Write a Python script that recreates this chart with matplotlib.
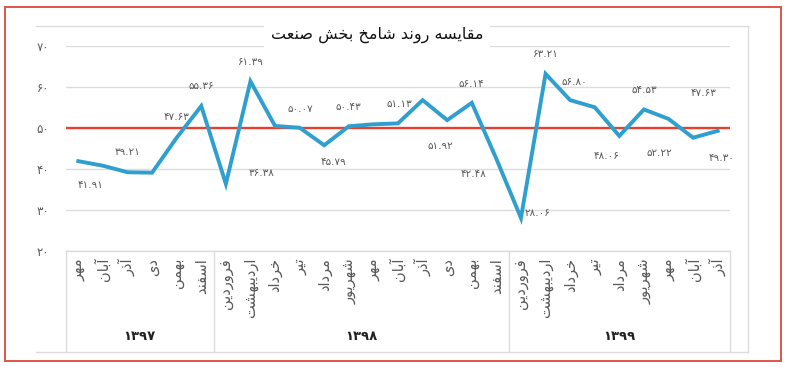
import matplotlib
matplotlib.use("Agg")
import matplotlib.pyplot as plt
from matplotlib.lines import Line2D
from matplotlib.patches import Rectangle

# data
years = ['۱۳۹۷', '۱۳۹۸', '۱۳۹۹']
year_sizes = [6, 12, 9]
months = [
    'مهر', 'آبان', 'آذر', 'دی', 'بهمن', 'اسفند',
    'فروردین', 'اردیبهشت', 'خرداد', 'تیر', 'مرداد', 'شهریور',
    'مهر', 'آبان', 'آذر', 'دی', 'بهمن', 'اسفند',
    'فروردین', 'اردیبهشت', 'خرداد', 'تیر', 'مرداد', 'شهریور',
    'مهر', 'آبان', 'آذر',
]
values = [41.91, 40.8, 39.21, 39.1, 47.63, 55.36, 36.38, 61.39, 50.5, 50.07,
          45.79, 50.43, 50.9, 51.13, 56.8, 51.92, 56.14, 42.48, 28.06, 63.21,
          56.80, 55.05, 48.06, 54.53, 52.22, 47.63, 49.30]
labelled = [0, 2, 4, 5, 6, 7, 9, 10, 11, 13, 15, 16, 17, 18, 19, 20, 22, 23, 24, 25, 26]
# label offsets in pixels (dx, dy) from the point
label_offsets = [(12, -24), (0, 20), (0, 21), (0, 20), (36, 11), (0, 19), (1, 19),
                 (9, -17), (0, 19), (1, 19), (-7, -26), (0, 19), (-23, -15), (17, 5),
                 (0, 20), (4, 18), (-13, -20), (0, 19), (-9, -34), (10, 45), (4, -27)]
threshold = 50
title = 'مقایسه روند شامخ بخش صنعت'

# ---- minimal Persian shaping (matplotlib has no complex text layout) ----
FORMS = {
    'ا': ('\uFE8D', '\uFE8E', None, None),
    'آ': ('\uFE81', '\uFE82', None, None),
    'ب': ('\uFE8F', '\uFE90', '\uFE91', '\uFE92'),
    'ت': ('\uFE95', '\uFE96', '\uFE97', '\uFE98'),
    'خ': ('\uFEA5', '\uFEA6', '\uFEA7', '\uFEA8'),
    'د': ('\uFEA9', '\uFEAA', None, None),
    'ذ': ('\uFEAB', '\uFEAC', None, None),
    'ر': ('\uFEAD', '\uFEAE', None, None),
    'س': ('\uFEB1', '\uFEB2', '\uFEB3', '\uFEB4'),
    'ش': ('\uFEB5', '\uFEB6', '\uFEB7', '\uFEB8'),
    'ص': ('\uFEB9', '\uFEBA', '\uFEBB', '\uFEBC'),
    'ع': ('\uFEC9', '\uFECA', '\uFECB', '\uFECC'),
    'ف': ('\uFED1', '\uFED2', '\uFED3', '\uFED4'),
    'ق': ('\uFED5', '\uFED6', '\uFED7', '\uFED8'),
    'م': ('\uFEE1', '\uFEE2', '\uFEE3', '\uFEE4'),
    'ن': ('\uFEE5', '\uFEE6', '\uFEE7', '\uFEE8'),
    'ه': ('\uFEE9', '\uFEEA', '\uFEEB', '\uFEEC'),
    'و': ('\uFEED', '\uFEEE', None, None),
    'ی': ('\uFBFC', '\uFBFD', '\uFBFE', '\uFBFF'),
}


def shape(text):
    out = []
    for k, ch in enumerate(text):
        if ch not in FORMS:
            out.append(ch)
            continue
        prev = text[k - 1] if k > 0 else ''
        nxt = text[k + 1] if k + 1 < len(text) else ''
        joins_prev = prev in FORMS and FORMS[prev][2] is not None
        joins_next = nxt in FORMS and FORMS[ch][2] is not None
        iso, fin, ini, med = FORMS[ch]
        if joins_prev and joins_next:
            out.append(med)
        elif joins_prev:
            out.append(fin)
        elif joins_next:
            out.append(ini)
        else:
            out.append(iso)
    return ''.join(reversed(out))


def fa_num(v, fmt='{:.2f}'):
    s = fmt.format(v)
    return s.translate(str.maketrans('0123456789', '۰۱۲۳۴۵۶۷۸۹'))


plt.rcParams['font.family'] = ['DejaVu Sans']
W, H = 790, 367
fig = plt.figure(figsize=(W / 100, H / 100), dpi=100)
fig.patch.set_facecolor('white')


def fx(px):
    return px / W


def fy(py):
    return 1 - py / H


ax = fig.add_axes([fx(66), fy(251), fx(730) - fx(66), fy(46) - fy(251)])
x = list(range(len(values)))
ax.set_xlim(-0.5, len(values) - 0.5)
ax.set_ylim(20, 70)

ax.set_yticks([20, 30, 40, 50, 60, 70])
ax.set_yticklabels([fa_num(t, '{:d}') for t in [20, 30, 40, 50, 60, 70]],
                   fontsize=8.5, color='#595959')
ax.yaxis.grid(True, color='#dcdcdc', linewidth=1)
ax.set_axisbelow(True)
ax.tick_params(axis='y', length=0, pad=12)

ax.set_xticks(x)
ax.set_xticklabels([shape(m) for m in months], rotation=90, va='top',
                   ha='center', fontsize=10.5, color='#595959')
ax.tick_params(axis='x', length=0, pad=5)
for s in ax.spines.values():
    s.set_visible(False)

ax.axhline(threshold, color='#e8402f', linewidth=1.7, zorder=2)
ax.plot(x, values, color='#2f9fd0', linewidth=2.8, zorder=3,
        solid_joinstyle='miter')

for i, (dx, dy) in zip(labelled, label_offsets):
    ax.annotate(fa_num(values[i]), (i, values[i]), xytext=(dx, dy),
                textcoords='offset pixels', ha='center', va='center',
                fontsize=7.5, color='#595959', zorder=4)

# category table below the axis
tbl_bottom = (251 - 352) / 205
xf = ax.get_xaxis_transform()
edges = [-0.5]
for n in year_sizes:
    edges.append(edges[-1] + n)
for e in edges:
    ax.plot([e, e], [0, tbl_bottom], transform=xf, color='#dcdcdc',
            linewidth=1, clip_on=False)
ax.plot([-0.5, len(values) - 0.5], [0, 0], transform=xf, color='#dcdcdc',
        linewidth=1, clip_on=False)
for k, yr in enumerate(years):
    mid = (edges[k] + edges[k + 1]) / 2
    ax.text(mid, (251 - 337) / 205, yr, transform=xf, ha='center',
            va='center', fontsize=9.5, fontweight='bold', color='#222222')

# chart frame and outer red border
gray = '#dcdcdc'
fig.add_artist(Line2D([fx(36), fx(748)], [fy(26), fy(26)], color=gray, lw=1))
fig.add_artist(Line2D([fx(748), fx(748)], [fy(26), fy(352)], color=gray, lw=1))
fig.add_artist(Line2D([fx(36), fx(748)], [fy(352), fy(352)], color=gray, lw=1))
fig.add_artist(Rectangle((fx(5), fy(361)), fx(781) - fx(5), fy(7) - fy(361),
                         fill=False, edgecolor='#e0554a', linewidth=1.4))

fig.text(fx(377), fy(35), shape(title), ha='center', va='center',
         fontsize=11.5, color='#111111',
         bbox=dict(boxstyle='square,pad=0.45', facecolor='white',
                   edgecolor='none'))

fig.savefig('out.png', dpi=100)
